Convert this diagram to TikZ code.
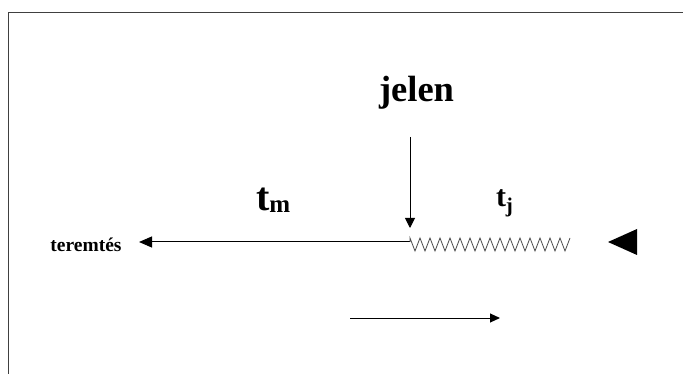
\documentclass[tikz,border=0pt]{standalone}
\usepackage{fontspec}
\setmainfont{Liberation Serif}
\usetikzlibrary{arrows.meta}
\tikzset{
  lbl/.style={inner sep=0pt, outer sep=0pt, font=\bfseries},
  conn/.style={line width=1pt, black},
  frame/.style={line width=1.6pt, black!75},
}
\begin{document}
\begin{tikzpicture}[x=1pt,y=-1pt]
\useasboundingbox (0,0) rectangle (683,374);
% frame
\draw[frame] (8.5,374) -- (8.5,12.5) -- (683,12.5);
% labels
\node[lbl, anchor=base, font=\bfseries\fontsize{36.5}{36}\selectfont] (jelen) at (416.5,102) {jelen};
\node[lbl, anchor=base, font=\bfseries\fontsize{19.5}{20}\selectfont] (teremtes) at (86,252) {teremtés};
\node[lbl, anchor=base west, font=\bfseries\fontsize{40}{40}\selectfont] (tm) at (256,211) {t\raisebox{-2pt}{\fontsize{25}{25}\selectfont m}};
\node[lbl, anchor=base west, font=\bfseries\fontsize{30}{30}\selectfont] (tj) at (496,207) {t\raisebox{-6pt}{\fontsize{21}{21}\selectfont j}};
% coordinates
\coordinate (dtop) at (410,137);
\coordinate (now) at (410,228);
\coordinate (lineR) at (410,242);
\coordinate (lineL) at (139,242);
\coordinate (bL) at (350,318);
\coordinate (bR) at (500,318);
% down arrow
\draw[conn, -{Triangle[length=10pt,width=10pt]}] (dtop) -- (now);
% past line
\draw[conn, -{Triangle[length=13pt,width=11pt]}] (lineR) -- (lineL);
% zigzag future
\draw[line width=0.8pt, black!70, line join=miter]
  (lineR) -- (410,238)
  \foreach \i in {0,...,15} { -- ({415+10*\i},251) -- ({420+10*\i},238) };
% big triangle
\fill[black] (608,242) -- (637,229) -- (637,255) -- cycle;
% bottom arrow
\draw[conn, -{Triangle[length=10pt,width=9pt]}] (bL) -- (bR);
\end{tikzpicture}
\end{document}
